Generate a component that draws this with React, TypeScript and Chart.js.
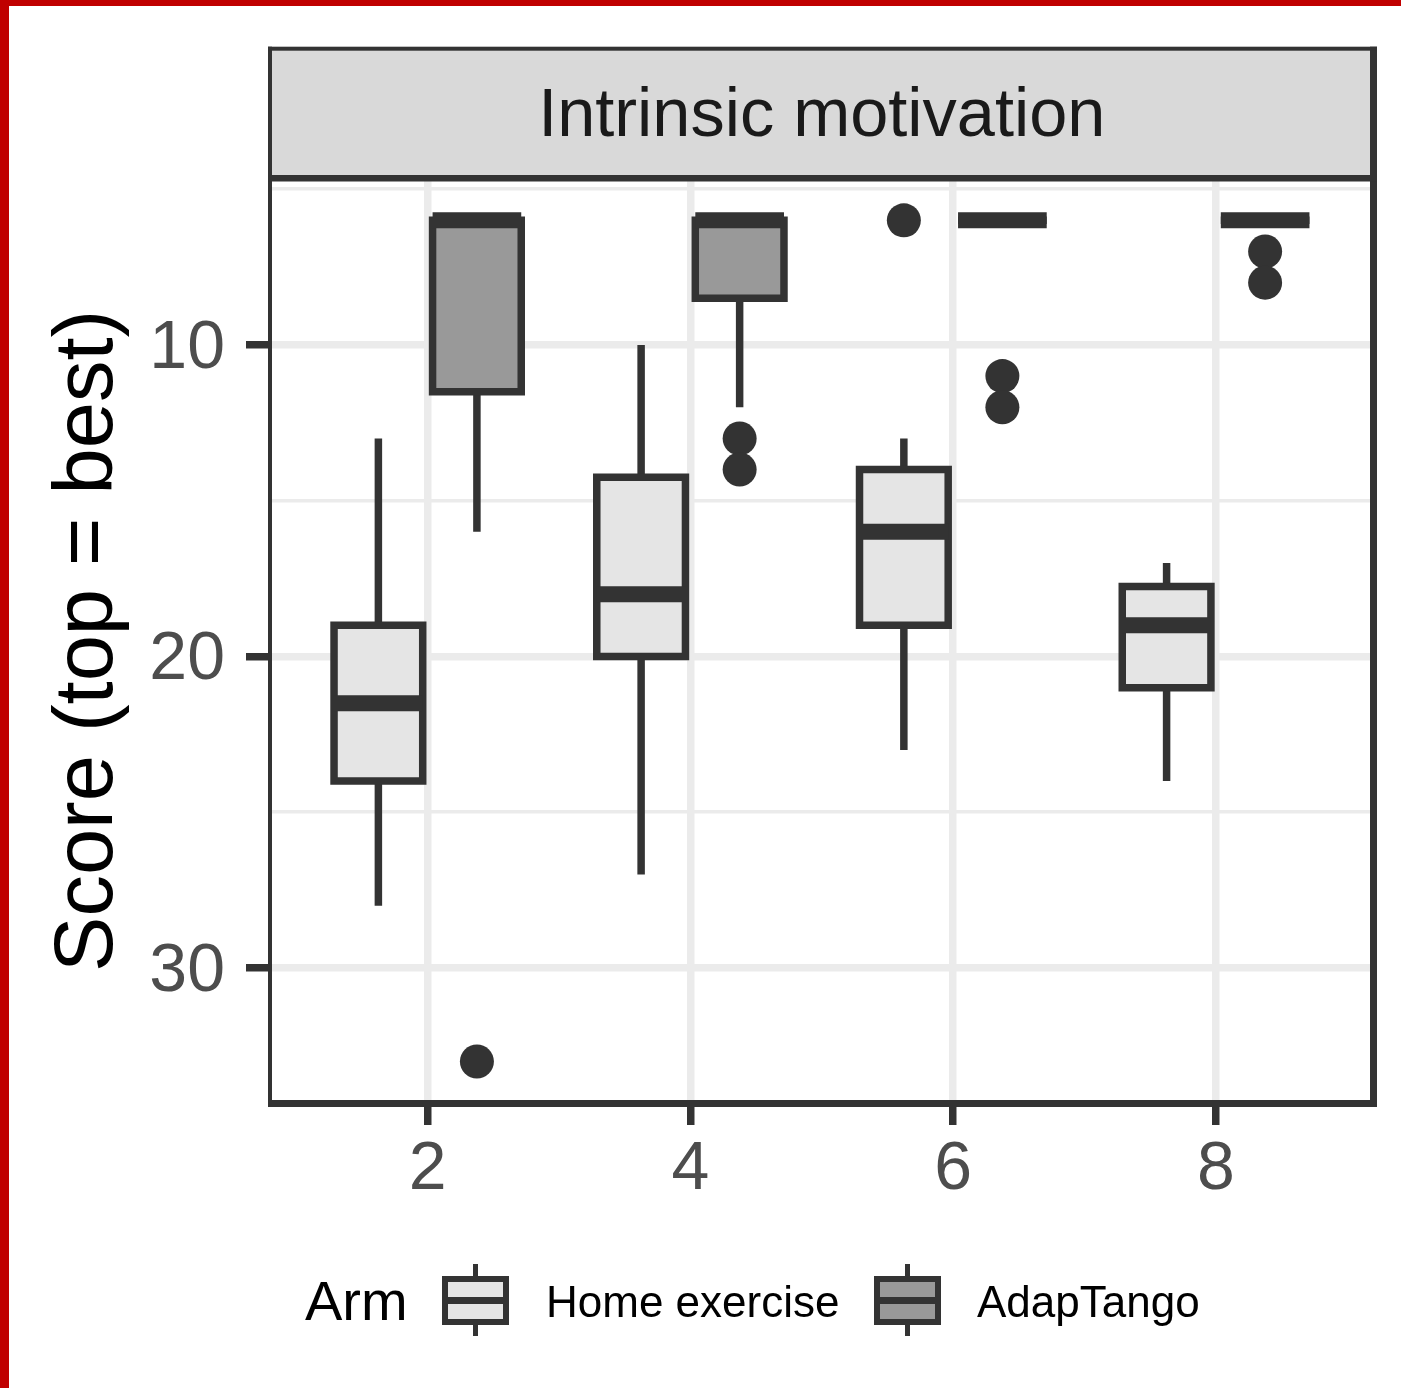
import React, { useEffect, useRef } from 'react';
import { Chart, registerables } from 'chart.js';

Chart.register(...registerables);

// ---------- data ----------
const weeks = ['2', '4', '6', '8'];
const arms = ['Home exercise', 'AdapTango'];
const legendTitle = 'Arm';
const panelTitle = 'Intrinsic motivation';
const yTitle = 'Score (top = best)';

// Home exercise (lower score = better, axis reversed)
const homeMin = [13, 10, 13, 17];
const homeQ1 = [19, 14.25, 14, 17.75];
const homeMedian = [21.5, 18, 16, 19];
const homeQ3 = [24, 20, 19, 21];
const homeMax = [28, 27, 23, 24];
const homeOutliers: number[][] = [[], [], [6], []];

// AdapTango
const adapMin = [6, 6, 6, 6];
const adapQ1 = [6, 6, 6, 6];
const adapMedian = [6, 6, 6, 6];
const adapQ3 = [11.5, 8.5, 6, 6];
const adapMax = [16, 12, 6, 6];
const adapOutliers: number[][] = [[33], [13, 14], [11, 12], [7, 8]];

const yMajorTicks = [10, 20, 30];
const yMinorTicks = [5, 15, 25];

// ---------- styling / layout ----------
const FONT = '"Liberation Sans", Arial, Helvetica, sans-serif';
const INK = '#333333';
const GRID = '#EBEBEB';
const DODGE = 0.1875;
const HALF_BOX = 0.16875;
const LW = 7.5;
const CANVAS_W = 1401;
const CANVAS_H = 1388;
const AREA_LEFT = 270;
const AREA_RIGHT_PAD = 27.5;
const AREA_BOTTOM = 1103.5;
const STRIP_H = 129.6;

const stats = [
  { min: homeMin, q1: homeQ1, med: homeMedian, q3: homeQ3, max: homeMax, out: homeOutliers, fill: '#E5E5E5', shift: -DODGE },
  { min: adapMin, q1: adapQ1, med: adapMedian, q3: adapQ3, max: adapMax, out: adapOutliers, fill: '#999999', shift: DODGE },
];

const cx = (i: number, s: { shift: number }) => i + 1 + s.shift;

function buildDatasets(): any[] {
  const fills = stats.map((s, a) => ({
    type: 'bar',
    label: arms[a],
    data: weeks.map((_, i) => ({ x: cx(i, s), y: [s.q1[i], s.q3[i]] })),
    backgroundColor: s.fill,
    borderWidth: 0,
    grouped: false,
    barPercentage: 0.9,
    categoryPercentage: 1,
    order: 5,
  }));

  const whiskers: any[] = [];
  const outlines: any[] = [];
  const medians: any[] = [];
  const outliers: any[] = [];
  stats.forEach((s) => {
    weeks.forEach((_, i) => {
      const x = cx(i, s);
      whiskers.push(
        { x, y: s.min[i] }, { x, y: s.q1[i] }, { x, y: null },
        { x, y: s.q3[i] }, { x, y: s.max[i] }, { x, y: null },
      );
      outlines.push(
        { x, y: s.q1[i] },
        { x: x + HALF_BOX, y: s.q1[i] },
        { x: x + HALF_BOX, y: s.q3[i] },
        { x: x - HALF_BOX, y: s.q3[i] },
        { x: x - HALF_BOX, y: s.q1[i] },
        { x, y: s.q1[i] },
        { x, y: null },
      );
      medians.push({ x: x - HALF_BOX, y: s.med[i] }, { x: x + HALF_BOX, y: s.med[i] }, { x, y: null });
      s.out[i].forEach((v) => outliers.push({ x, y: v }));
    });
  });

  const lineBase = {
    type: 'line',
    borderColor: INK,
    pointRadius: 0,
    pointHoverRadius: 0,
    pointHitRadius: 0,
    fill: false,
    tension: 0,
    spanGaps: false,
    borderCapStyle: 'butt',
    borderJoinStyle: 'miter',
  };

  return [
    ...fills,
    { ...lineBase, label: 'whiskers', data: whiskers, borderWidth: LW, order: 4 },
    { ...lineBase, label: 'boxes', data: outlines, borderWidth: LW, order: 3 },
    { ...lineBase, label: 'medians', data: medians, borderWidth: 16, order: 2 },
    {
      type: 'scatter',
      label: 'outliers',
      data: outliers,
      pointRadius: 17,
      pointHoverRadius: 17,
      pointBackgroundColor: INK,
      pointBorderWidth: 0,
      order: 1,
    },
  ];
}

const stripPlugin = {
  id: 'ggStrip',
  beforeDraw(chart: any) {
    const { ctx, chartArea } = chart;
    const { left, right, top } = chartArea;
    ctx.save();
    ctx.fillStyle = '#D9D9D9';
    ctx.fillRect(left, top - STRIP_H, right - left, STRIP_H);
    ctx.restore();
  },
  afterDatasetsDraw(chart: any) {
    const { ctx, chartArea } = chart;
    const { left, right, top, bottom } = chartArea;
    const sTop = top - STRIP_H;
    ctx.save();
    ctx.fillStyle = INK;
    ctx.fillRect(left - 2, sTop - 2, 4, bottom + 3.5 - (sTop - 2));
    ctx.fillRect(right - 3.5, sTop - 2, 7, bottom + 3.5 - (sTop - 2));
    ctx.fillRect(left - 2, sTop - 2, right + 3.5 - (left - 2), 4);
    ctx.fillRect(left - 2, top - 3.3, right + 3.5 - (left - 2), 6.5);
    ctx.fillRect(left - 2, bottom - 3.5, right + 3.5 - (left - 2), 7);
    ctx.restore();
  },
};

const legendPlugin = {
  id: 'ggLegend',
  afterDraw(chart: any) {
    const ctx = chart.ctx;
    ctx.save();
    ctx.textBaseline = 'alphabetic';
    ctx.textAlign = 'left';
    ctx.fillStyle = '#000000';
    ctx.font = `56px ${FONT}`;
    ctx.fillText(legendTitle, 305, 1320);
    const keyCenters = [475.5, 907.5];
    const labelX = [546, 977];
    const boxTop = 1279;
    const boxBottom = 1322;
    const half = 30.5;
    stats.forEach((s, a) => {
      const kx = keyCenters[a];
      ctx.strokeStyle = INK;
      ctx.lineCap = 'butt';
      ctx.lineWidth = 5;
      ctx.beginPath();
      ctx.moveTo(kx, 1264);
      ctx.lineTo(kx, boxTop);
      ctx.moveTo(kx, boxBottom);
      ctx.lineTo(kx, 1336);
      ctx.stroke();
      ctx.fillStyle = s.fill;
      ctx.fillRect(kx - half, boxTop, half * 2, boxBottom - boxTop);
      ctx.lineWidth = 6;
      ctx.lineJoin = 'miter';
      ctx.strokeRect(kx - half, boxTop, half * 2, boxBottom - boxTop);
      ctx.lineWidth = 7;
      ctx.beginPath();
      ctx.moveTo(kx - half, (boxTop + boxBottom) / 2);
      ctx.lineTo(kx + half, (boxTop + boxBottom) / 2);
      ctx.stroke();
      ctx.fillStyle = '#000000';
      ctx.font = `44px ${FONT}`;
      ctx.fillText(arms[a], labelX[a], 1317);
    });
    ctx.restore();
  },
};

export default function App() {
  const ref = useRef<HTMLCanvasElement>(null);

  useEffect(() => {
    const canvas = ref.current;
    if (!canvas) return;
    Chart.defaults.font.family = FONT;
    const chart = new Chart(canvas, {
      type: 'scatter',
      data: { datasets: buildDatasets() },
      plugins: [stripPlugin, legendPlugin],
      options: {
        animation: false,
        responsive: false,
        devicePixelRatio: 1,
        events: [],
        layout: { padding: { left: 0, right: AREA_RIGHT_PAD, top: 0, bottom: 0 } },
        plugins: {
          legend: { display: false },
          tooltip: { enabled: false },
          title: {
            display: true,
            text: panelTitle,
            position: 'top',
            fullSize: false,
            align: 'center',
            color: '#1A1A1A',
            font: { size: 68.5, weight: 'normal', family: FONT, lineHeight: 84 / 68.5 },
            padding: { top: 75.4, bottom: 18.9 },
          },
        },
        scales: {
          x: {
            type: 'linear',
            min: 0.4,
            max: 4.6,
            offset: false,
            afterBuildTicks: (s: any) => {
              s.ticks = weeks.map((_, i) => ({ value: i + 1 }));
            },
            afterFit: (s: any) => {
              s.height = CANVAS_H - AREA_BOTTOM;
            },
            ticks: {
              callback: (_v: any, i: number) => weeks[i],
              color: '#4D4D4D',
              font: { size: 68, family: FONT },
              padding: 4.3,
              autoSkip: false,
              maxRotation: 0,
              minRotation: 0,
            },
            grid: {
              offset: false,
              color: GRID,
              lineWidth: LW,
              tickColor: INK,
              tickWidth: LW,
              tickLength: 21.5,
            },
            border: { display: false },
          },
          y: {
            type: 'linear',
            reverse: true,
            min: 4.65,
            max: 34.35,
            afterBuildTicks: (s: any) => {
              s.ticks = [...yMinorTicks, ...yMajorTicks].sort((a, b) => a - b).map((v) => ({ value: v }));
            },
            afterFit: (s: any) => {
              s.width = AREA_LEFT;
            },
            ticks: {
              callback: (v: any) => (yMajorTicks.includes(Number(v)) ? String(v) : ''),
              color: '#4D4D4D',
              font: { size: 68, family: FONT },
              padding: 21,
              labelOffset: 4,
              autoSkip: false,
            },
            grid: {
              offset: false,
              color: GRID,
              lineWidth: (c: any) => (yMajorTicks.includes(c.tick?.value) ? LW : 3.5),
              tickColor: (c: any) => (yMajorTicks.includes(c.tick?.value) ? INK : 'rgba(0,0,0,0)'),
              tickWidth: LW,
              tickLength: 24,
            },
            border: { display: false },
            title: {
              display: true,
              text: yTitle,
              color: '#000000',
              font: { size: 83, family: FONT },
              padding: { top: 39, bottom: 0 },
            },
          },
        },
      } as any,
    } as any);
    return () => chart.destroy();
  }, []);

  return (
    <div style={{ position: 'absolute', left: 0, top: 0, width: CANVAS_W, height: CANVAS_H, background: '#C00000', overflow: 'hidden' }}>
      <div style={{ position: 'absolute', left: 9, top: 6, right: 0, bottom: 0, background: '#FFFFFF' }} />
      <canvas
        ref={ref}
        width={CANVAS_W}
        height={CANVAS_H}
        style={{ position: 'absolute', left: 0, top: 0, width: CANVAS_W, height: CANVAS_H }}
      />
    </div>
  );
}
